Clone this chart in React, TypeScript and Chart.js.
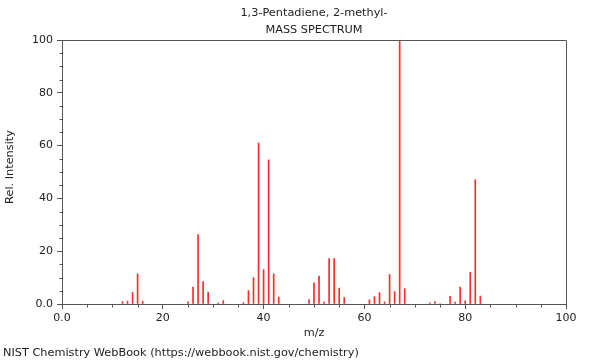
import { useEffect, useRef } from 'react';
import { Chart, registerables } from 'chart.js';

Chart.register(...registerables);

const TITLE_LINES = ['1,3-Pentadiene, 2-methyl-', 'MASS SPECTRUM'];
const X_TITLE = 'm/z';
const Y_TITLE = 'Rel. Intensity';
const FOOTER = 'NIST Chemistry WebBook (https://webbook.nist.gov/chemistry)';

const MZ = [12, 13, 14, 15, 16, 25, 26, 27, 28, 29, 31, 32, 36, 37, 38, 39, 40, 41, 42, 43,
  49, 50, 51, 52, 53, 54, 55, 56, 61, 62, 63, 64, 65, 66, 67, 68, 73, 74, 75, 77, 78, 79, 80, 81, 82, 83];
const INTENSITY = [0.9, 1.1, 4.4, 11.4, 1.0, 0.8, 6.4, 26.3, 8.5, 4.4, 0.4, 1.3, 0.5, 5.1, 10.0, 61.0, 13.0, 54.6, 11.4, 2.6,
  1.7, 8.0, 10.6, 0.7, 17.2, 17.2, 6.0, 2.5, 1.6, 2.8, 4.3, 0.8, 11.2, 4.7, 100, 5.8, 0.4, 0.9, 0.2, 2.9, 0.7, 6.4, 1.2, 12.0, 47.1, 3.0];

const X_TICK_LABELS: Record<number, string> = { 0: '0.0', 20: '20', 40: '40', 60: '60', 80: '80', 100: '100' };
const Y_TICK_LABELS: Record<number, string> = { 0: '0.0', 20: '20', 40: '40', 60: '60', 80: '80', 100: '100' };

const FONT = 'DejaVu Sans';
const AXIS_COLOR = '#555';
const TEXT_COLOR = '#222';

export default function App() {
  const ref = useRef<HTMLCanvasElement | null>(null);

  useEffect(() => {
    document.body.style.margin = '0';
    const canvas = ref.current;
    if (!canvas) return;

    const decor = {
      id: 'decor',
      afterDraw(chart: any) {
        const { ctx, chartArea } = chart;
        const { left, right, top, bottom } = chartArea;
        ctx.save();
        ctx.strokeStyle = AXIS_COLOR;
        ctx.lineWidth = 1;
        ctx.beginPath();
        ctx.moveTo(Math.round(left) + 0.5, Math.round(top) + 0.5);
        ctx.lineTo(Math.round(right) + 0.5, Math.round(top) + 0.5);
        ctx.lineTo(Math.round(right) + 0.5, Math.round(bottom) + 0.5);
        ctx.stroke();
        // minor ticks
        const xs = chart.scales.x;
        const ys = chart.scales.y;
        ctx.beginPath();
        for (const t of xs.ticks) {
          if (X_TICK_LABELS[t.value] !== undefined) continue;
          const px = Math.round(xs.getPixelForValue(t.value)) + 0.5;
          ctx.moveTo(px, Math.round(bottom) + 0.5);
          ctx.lineTo(px, Math.round(bottom) + 3.5);
        }
        for (const t of ys.ticks) {
          if (Y_TICK_LABELS[t.value] !== undefined) continue;
          const py = Math.round(ys.getPixelForValue(t.value)) + 0.5;
          ctx.moveTo(Math.round(left) + 0.5, py);
          ctx.lineTo(Math.round(left) - 2.5, py);
        }
        ctx.stroke();
        // titles
        ctx.fillStyle = TEXT_COLOR;
        ctx.font = `11.3px "${FONT}"`;
        ctx.textAlign = 'center';
        ctx.textBaseline = 'middle';
        const cx = (left + right) / 2;
        ctx.fillText(TITLE_LINES[0], cx, 13);
        ctx.fillText(TITLE_LINES[1], cx, 30);
        ctx.fillText(X_TITLE, cx, 333);
        ctx.save();
        ctx.translate(10, 167);
        ctx.rotate(-Math.PI / 2);
        ctx.fillText(Y_TITLE, 0, 0);
        ctx.restore();
        ctx.textAlign = 'left';
        ctx.fillText(FOOTER, 3, 353);
        ctx.restore();
      },
    };

    const chart = new Chart(canvas, {
      type: 'bar',
      data: {
        datasets: [{
          data: MZ.map((m, i) => ({ x: m, y: INTENSITY[i] })),
          backgroundColor: '#ff2a2a',
          borderWidth: 0,
          barThickness: 1,
        }],
      },
      options: {
        responsive: false,
        animation: false,
        devicePixelRatio: 1,
        layout: { padding: { top: 40, right: 34, left: 0, bottom: 0 } },
        plugins: { legend: { display: false }, tooltip: { enabled: false }, title: { display: false } },
        scales: {
          x: {
            type: 'linear',
            min: 0,
            max: 100,
            offset: false,
            afterFit: (s: any) => { s.height = 56; },
            grid: {
              offset: false,
              drawOnChartArea: false,
              drawTicks: true,
              tickLength: 5,
              tickColor: (c: any) => (X_TICK_LABELS[c.tick?.value] !== undefined ? AXIS_COLOR : 'rgba(0,0,0,0)'),
            },
            border: { display: true, color: AXIS_COLOR },
            ticks: {
              stepSize: 5,
              autoSkip: false,
              maxRotation: 0,
              padding: 3,
              color: TEXT_COLOR,
              font: { family: FONT, size: 11 },
              callback: (v: any) => X_TICK_LABELS[v] ?? '',
            },
          },
          y: {
            type: 'linear',
            min: 0,
            max: 100,
            afterFit: (s: any) => { s.width = 62; },
            grid: {
              drawOnChartArea: false,
              drawTicks: true,
              tickLength: 5,
              tickColor: (c: any) => (Y_TICK_LABELS[c.tick?.value] !== undefined ? AXIS_COLOR : 'rgba(0,0,0,0)'),
            },
            border: { display: true, color: AXIS_COLOR },
            ticks: {
              stepSize: 5,
              autoSkip: false,
              padding: 4,
              color: TEXT_COLOR,
              font: { family: FONT, size: 11 },
              callback: (v: any) => Y_TICK_LABELS[v] ?? '',
            },
          },
        },
      },
      plugins: [decor],
    });
    return () => chart.destroy();
  }, []);

  return <canvas ref={ref} width={600} height={360} style={{ display: 'block', width: 600, height: 360 }} />;
}
